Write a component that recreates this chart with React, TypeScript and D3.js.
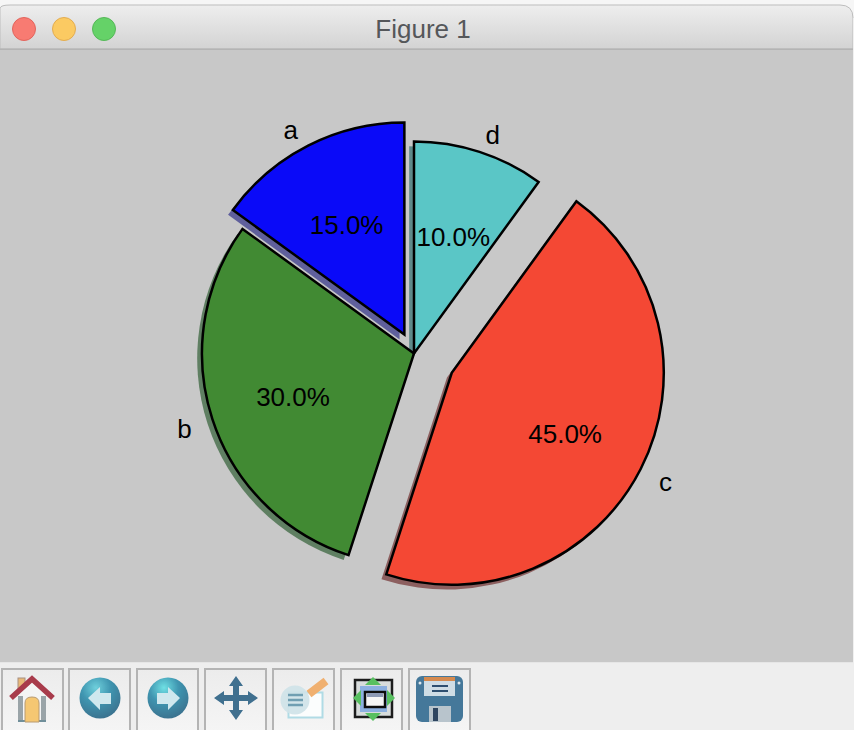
import React from 'react';
import * as d3 from 'd3';

const labels = ['a', 'b', 'c', 'd'];
const sizes = [15, 30, 45, 10];
const explode = [0.1, 0, 0.2, 0];
const colors = ['#0a0af8', '#418a33', '#f44834', '#5ac6c6'];
const shadowColors = ['#5f5f9c', '#5f7f62', '#8c5f5f', '#5f8a8a'];
const buttonX = [2, 69, 137, 205, 273, 341, 409];

const WIDTH = 854;
const HEIGHT = 730;
const RADIUS = 212;
const CX = 414;
const CY = 353.5;
const SHADOW = 4.8;
const FONT = '"Liberation Sans", Arial, sans-serif';

const pie = d3
  .pie<number>()
  .sort(null)
  .startAngle(0)
  .endAngle(-2 * Math.PI);

const arc = d3.arc<d3.PieArcDatum<number>>().innerRadius(0).outerRadius(RADIUS);

const polar = (angle: number, r: number): [number, number] => [
  Math.sin(angle) * r,
  -Math.cos(angle) * r,
];

const wedges = pie(sizes).map((d, i) => {
  const mid = (d.startAngle + d.endAngle) / 2;
  const [ox, oy] = polar(mid, explode[i] * RADIUS);
  const cx = CX + ox;
  const cy = CY + oy;
  const [lx, ly] = polar(mid, RADIUS * 1.1);
  const [px, py] = polar(mid, RADIUS * 0.6);
  return {
    d,
    i,
    cx,
    cy,
    labelX: cx + lx,
    labelY: cy + ly,
    pctX: cx + px,
    pctY: cy + py,
    anchor: lx < 0 ? 'end' : 'start',
  };
});

const pct = d3.format('.1f');

const HomeIcon = () => (
  <g>
    <rect x={18} y={678} width={7} height={14} fill="#e8b878" stroke="#a89080" strokeWidth={1} />
    <path d="M18 722V692L32 680L46 692V722Z" fill="#f4f4f4" />
    <path d="M18 696h5v26h-5zM41 696h5v26h-5z" fill="#9aa4a8" />
    <rect x={18} y={720} width={28} height={2} fill="#6f8f9a" />
    <path d="M25 722V703Q25 697 32 697Q39 697 39 703V722Z" fill="#f5c772" stroke="#b89a70" strokeWidth={1} />
    <path d="M11 698L32 679L53 698" fill="none" stroke="#a83a4c" strokeWidth={5.5} />
  </g>
);

const BackIcon = ({ cx, flip }: { cx: number; flip: boolean }) => (
  <g transform={`translate(${cx},698) scale(${flip ? -1 : 1},1)`}>
    <circle r={20.5} fill={flip ? 'url(#ballR)' : 'url(#ballL)'} />
    <path d="M-12 0L0 -11V-5H11V6H0V12Z" fill="#cfe8ee" />
  </g>
);

const MoveIcon = () => (
  <g fill="#3f6f8f" transform="translate(236,698)">
    <path d="M0 -22L7 -12H3V-3H12V-7L22 0L12 7V3H3V12H7L0 22L-7 12H-3V3H-12V7L-22 0L-12 -7V-3H-3V-12H-7Z" />
  </g>
);

const EditIcon = () => (
  <g>
    <rect x={288.5} y={692.5} width={34} height={25} fill="#fbfdfd" stroke="#b0dbe5" strokeWidth={2} />
    <path d="M309 694L326 681" stroke="#f0b070" strokeWidth={8} />
    <circle cx={295} cy={700} r={14.5} fill="#cfe3e8" opacity={0.92} />
    <path d="M288 695h15M288 700h15M288 705h15" stroke="#6f9fb2" strokeWidth={2.5} />
  </g>
);

const SubplotIcon = () => (
  <g>
    <rect x={355} y={680} width={37} height={37} fill="#d8dcdc" stroke="#1f1f1f" strokeWidth={2.5} />
    <rect x={360} y={686} width={27} height={26} fill="#7fa8e0" opacity={0.85} />
    <rect x={365} y={692} width={20} height={15} fill="#f6f6f6" stroke="#111" strokeWidth={2.5} />
    <rect x={367} y={693} width={16} height={4} fill="#8d9ab5" />
    <path d="M373 677L381 685H365Z M373 721L381 713H365Z M353 698L361 690V706Z M395 698L387 690V706Z" fill="#58c060" />
  </g>
);

const SaveIcon = () => (
  <g>
    <rect x={416} y={676} width={47} height={46} rx={6} fill="#44789a" />
    <rect x={424} y={677} width={31} height={19} fill="#cfdde5" />
    <rect x={424} y={677} width={31} height={4} fill="#d58a50" />
    <path d="M432 686h16M432 691h16" stroke="#2f4f6f" strokeWidth={2} />
    <rect x={429} y={706} width={22} height={16} fill="#b8c4cc" />
    <rect x={433} y={708} width={5} height={13} fill="#2f4560" />
    <circle cx={420} cy={683} r={1.5} fill="#dfe8ee" />
    <circle cx={459} cy={683} r={1.5} fill="#dfe8ee" />
  </g>
);

export default function App() {
  return (
    <svg
      width={WIDTH}
      height={HEIGHT}
      viewBox={`0 0 ${WIDTH} ${HEIGHT}`}
      style={{ position: 'absolute', left: 0, top: 0, display: 'block' }}
      fontFamily={FONT}
    >
      <defs>
        <linearGradient id="titleBar" x1="0" y1="0" x2="0" y2="1">
          <stop offset="0" stopColor="#eeeeee" />
          <stop offset="1" stopColor="#d3d3d3" />
        </linearGradient>
        <linearGradient id="button" x1="0" y1="0" x2="0" y2="1">
          <stop offset="0" stopColor="#ececec" />
          <stop offset="1" stopColor="#f6f6f6" />
        </linearGradient>
        <radialGradient id="ballL" cx="0.4" cy="0.25" r="0.8">
          <stop offset="0" stopColor="#6fd0dc" />
          <stop offset="0.45" stopColor="#3f95b0" />
          <stop offset="1" stopColor="#3a6f8c" />
        </radialGradient>
        <radialGradient id="ballR" cx="0.6" cy="0.25" r="0.8">
          <stop offset="0" stopColor="#6fe0e4" />
          <stop offset="0.45" stopColor="#3f95b0" />
          <stop offset="1" stopColor="#3a6f8c" />
        </radialGradient>
        <filter id="soft" filterUnits="userSpaceOnUse" x="0" y="660" width="480" height="70">
          <feGaussianBlur stdDeviation="0.7" />
        </filter>
      </defs>

      <rect width={WIDTH} height={HEIGHT} fill="#f6f6f6" />

      {/* window chrome */}
      <path
        d="M0 8Q1 5 10 5H840Q853 5 853 18V49H0Z"
        fill="url(#titleBar)"
        stroke="#bdbdbd"
        strokeWidth={1}
      />
      <rect x={0} y={48.5} width={WIDTH} height={1.5} fill="#b4b4b4" />
      <rect x={0} y={50} width={WIDTH} height={612.5} fill="#c8c8c8" />
      <rect x={853} y={18} width={1} height={HEIGHT} fill="#f0f0f0" />

      <circle cx={24} cy={29} r={11.5} fill="#f87b72" stroke="#e2645c" strokeWidth={1} />
      <circle cx={64} cy={29} r={11.5} fill="#fbca62" stroke="#e3ac50" strokeWidth={1} />
      <circle cx={104} cy={29} r={11.5} fill="#65d268" stroke="#55b858" strokeWidth={1} />
      <text x={423} y={38} fontSize={26} fill="#55575a" textAnchor="middle">
        Figure 1
      </text>

      {/* toolbar */}
      <rect x={0} y={662.5} width={WIDTH} height={67.5} fill="#eeeeee" />
      {buttonX.map((x) => (
        <rect
          key={x}
          x={x}
          y={669}
          width={61}
          height={70}
          fill="url(#button)"
          stroke="#b4b4b4"
          strokeWidth={2}
        />
      ))}
      <g filter="url(#soft)">
        <HomeIcon />
        <BackIcon cx={100} flip={false} />
        <BackIcon cx={168} flip={true} />
        <MoveIcon />
        <EditIcon />
        <SubplotIcon />
        <SaveIcon />
      </g>

      {/* pie */}
      {wedges.map((w) => (
        <path
          key={`shadow-${w.i}`}
          d={arc(w.d) as string}
          transform={`translate(${w.cx - SHADOW},${w.cy + SHADOW})`}
          fill={shadowColors[w.i]}
        />
      ))}
      {wedges.map((w) => (
        <path
          key={`wedge-${w.i}`}
          d={arc(w.d) as string}
          transform={`translate(${w.cx},${w.cy})`}
          fill={colors[w.i]}
          stroke="#000"
          strokeWidth={2.5}
          strokeLinejoin="miter"
        />
      ))}
      {wedges.map((w) => (
        <g key={`text-${w.i}`} fontSize={26} fill="#000">
          <text x={w.labelX - 0.5} y={w.labelY} dy={12.5} textAnchor={w.anchor}>
            {labels[w.i]}
          </text>
          <text x={w.pctX} y={w.pctY} dy={13} textAnchor="middle">
            {pct(sizes[w.i])}%
          </text>
        </g>
      ))}
    </svg>
  );
}
